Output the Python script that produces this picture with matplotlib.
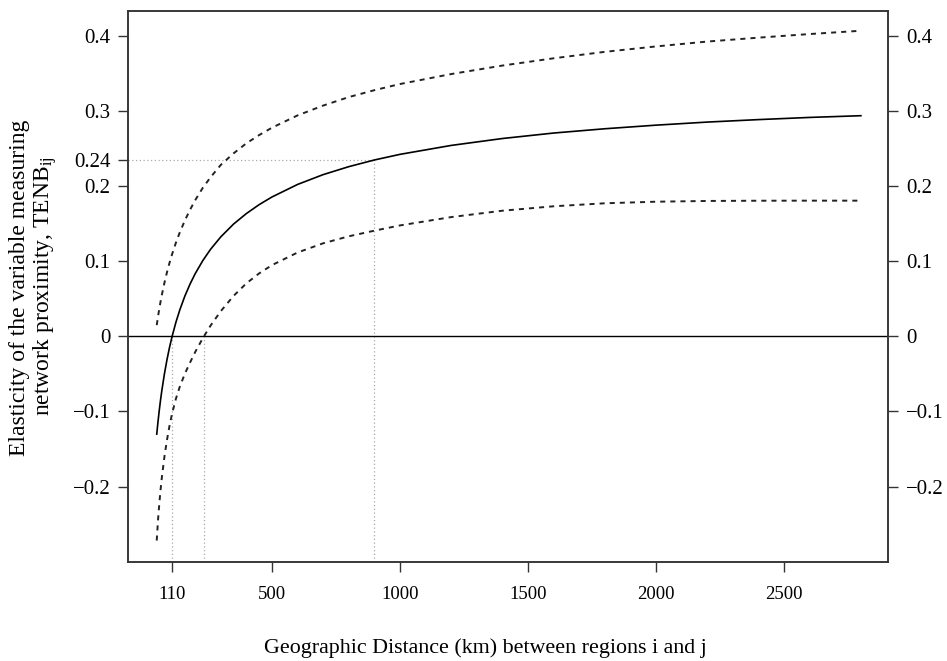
import matplotlib
matplotlib.use("Agg")
import matplotlib.pyplot as plt

plt.rcParams['font.family'] = ['Liberation Serif', 'DejaVu Serif']
plt.rcParams['mathtext.fontset'] = 'custom'
plt.rcParams['mathtext.rm'] = 'Liberation Serif'
plt.rcParams['mathtext.it'] = 'Liberation Serif:italic'

# Data (distance in km)
dist_km = [50, 55, 60, 65, 70, 80, 90, 100, 110, 125, 140, 160, 180, 200, 230, 260,
           300, 350, 400, 450, 500, 600, 700, 800, 900, 1000, 1200, 1400, 1600,
           1800, 2000, 2200, 2400, 2600, 2800]

# point estimate of the elasticity (solid line)
elasticity = [-0.1302, -0.1134, -0.0981, -0.0843, -0.0719, -0.0499, -0.0310, -0.0145,
              0.0000, 0.0190, 0.0353, 0.0539, 0.0697, 0.0835, 0.1011, 0.1160,
              0.1326, 0.1497, 0.1637, 0.1756, 0.1858, 0.2025, 0.2156, 0.2262,
              0.2351, 0.2426, 0.2545, 0.2637, 0.2710, 0.2767, 0.2815, 0.2856,
              0.2889, 0.2918, 0.2941]

# upper confidence bound (dashed)
upper_ci = [0.0150, 0.0264, 0.0369, 0.0465, 0.0554, 0.0714, 0.0855, 0.0982,
            0.1096, 0.1250, 0.1386, 0.1546, 0.1687, 0.1814, 0.1981, 0.2120,
            0.2285, 0.2439, 0.2573, 0.2683, 0.2781, 0.2945, 0.3076, 0.3189,
            0.3281, 0.3363, 0.3496, 0.3609, 0.3706, 0.3792, 0.3864, 0.3929,
            0.3981, 0.4029, 0.4073]

# lower confidence bound (dashed)
lower_ci = [-0.2720, -0.2446, -0.2228, -0.2040, -0.1877, -0.1603, -0.1379, -0.1189,
            -0.1027, -0.0829, -0.0670, -0.0496, -0.0349, -0.0209, -0.0023, 0.0143,
            0.0336, 0.0540, 0.0707, 0.0840, 0.0950, 0.1118, 0.1241, 0.1334,
            0.1409, 0.1479, 0.1590, 0.1675, 0.1734, 0.1774, 0.1795, 0.1805,
            0.1808, 0.1809, 0.1809]

x_ticks = [110, 500, 1000, 1500, 2000, 2500]
x_ticklabels = ['110', '500', '1000', '1500', '2000', '2500']
y_ticks_left = [0.4, 0.3, 0.235, 0.2, 0.1, 0.0, -0.1, -0.2]
y_ticklabels_left = ['0.4', '0.3', '0.24', '0.2', '0.1', '0', '\u22120.1', '\u22120.2']
y_ticks_right = [0.4, 0.3, 0.2, 0.1, 0.0, -0.1, -0.2]
y_ticklabels_right = ['0.4', '0.3', '0.2', '0.1', '0', '\u22120.1', '\u22120.2']

# reference lines
ref_zero_km = [110, 234]
ref_point_km = 900
ref_point_val = 0.235

fig = plt.figure(figsize=(9.47, 6.61), dpi=100)
ax = fig.add_axes([0.1355, 0.1493, 0.938 - 0.1355, 0.9838 - 0.1493])

ax.set_xlim(-61, 2907)
ax.set_ylim(-0.301, 0.434)

dot_kw = dict(color='#aaaaaa', lw=0.9, linestyle=(0, (1, 2)))
for k in ref_zero_km:
    ax.plot([k, k], [-0.301, 0.0], **dot_kw)
ax.plot([ref_point_km, ref_point_km], [-0.301, ref_point_val], **dot_kw)
ax.plot([-61, ref_point_km], [ref_point_val, ref_point_val], **dot_kw)

ax.axhline(0, color='black', lw=1.0)

ax.plot(dist_km, elasticity, color='black', lw=1.2)
ax.plot(dist_km, upper_ci, color='#222222', lw=1.4, linestyle=(0, (2.6, 2.6)))
ax.plot(dist_km, lower_ci, color='#222222', lw=1.4, linestyle=(0, (2.6, 2.6)))

ax.set_xticks(x_ticks)
ax.set_xticklabels(x_ticklabels, fontsize=13.5)
ax.set_yticks(y_ticks_left)
ax.set_yticklabels(y_ticklabels_left, fontsize=15)
ax.tick_params(axis='both', direction='out', length=7, width=1.0, color='#333333')
ax.tick_params(axis='x', pad=10)
ax.tick_params(axis='y', pad=6)

ax2 = ax.twinx()
ax2.set_ylim(ax.get_ylim())
ax2.set_yticks(y_ticks_right)
ax2.set_yticklabels(y_ticklabels_right, fontsize=15)
ax2.tick_params(axis='y', direction='out', length=7, width=1.0, pad=6, color='#333333')

for a in (ax, ax2):
    for s in a.spines.values():
        s.set_linewidth(1.1)
        s.set_color('#333333')

fig.text(485 / 947, 1 - 648 / 661, 'Geographic Distance (km) between regions i and j',
         ha='center', va='center', fontsize=15.8)
fig.text(20 / 947, 1 - 288 / 661, 'Elasticity of the variable measuring',
         rotation=90, ha='center', va='center', fontsize=17)
fig.text(45 / 947, 1 - 286.5 / 661, r'network proximity, TENB$_{\mathrm{ij}}$',
         rotation=90, ha='center', va='center', fontsize=17)

fig.savefig('out.png', dpi=100)
